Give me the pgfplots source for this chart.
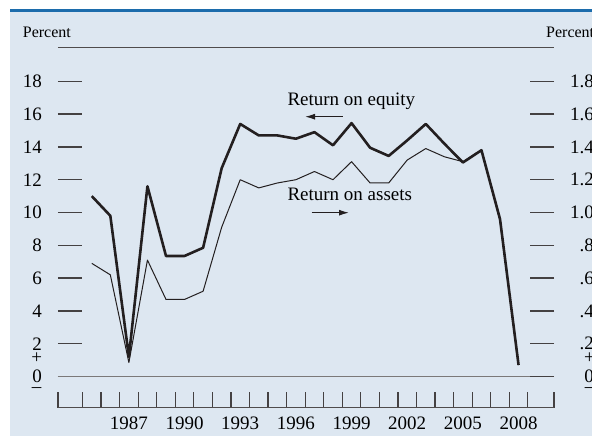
\documentclass[border=0pt]{standalone}
\usepackage{fontspec}
\setmainfont{Liberation Serif}
\usepackage{pgfplots}
\usepackage{pgfplotstable}
\pgfplotsset{compat=1.18}
\usetikzlibrary{arrows.meta}

\definecolor{bgblue}{RGB}{221,231,241}
\definecolor{topblue}{RGB}{28,108,172}
\definecolor{ink}{RGB}{35,31,32}

% annual returns, commercial banks
\pgfplotstableread{
year roe roa
1985 11.0 0.69
1986 9.8 0.62
1987 1.2 0.085
1988 11.6 0.71
1989 7.35 0.47
1990 7.35 0.47
1991 7.85 0.52
1992 12.7 0.91
1993 15.4 1.20
1994 14.7 1.15
1995 14.7 1.18
1996 14.5 1.20
1997 14.9 1.25
1998 14.1 1.20
1999 15.45 1.31
2000 13.95 1.18
2001 13.45 1.18
2002 14.4 1.32
2003 15.4 1.39
2004 14.2 1.34
2005 13.05 1.31
2006 13.8 1.38
2007 9.6 0.95
2008 0.7 0.07
}\banktable

\newcommand{\tickfont}{\fontsize{19}{19}\selectfont}

\begin{document}
\begin{tikzpicture}[x=1pt,y=1pt]
\fill[bgblue] (10,0) rectangle (592,424);
\fill[topblue] (10,424) rectangle (592,427);

\pgfplotsset{
  frame/.style={
    at={(58pt,28pt)}, anchor=south west,
    scale only axis, width=496pt, height=360.3pt,
    xmin=1983.18, xmax=2009.91,
    axis line style={draw=none},
    tick align=inside,
    major tick length=24pt,
    every tick/.style={ink!85, line width=1.3pt},
    /pgf/number format/assume math mode=true,
  }
}

\begin{axis}[frame,
  ymin=-1.92, ymax=20.05,
  ytick={0,2,4,6,8,10,12,14,16,18},
  yticklabels={0,2,4,6,8,10,12,14,16,18},
  ytick pos=left,
  yticklabel style={font=\tickfont, inner sep=0pt, anchor=east, xshift=-16pt},
  xtick={1987,1990,1993,1996,1999,2002,2005,2008},
  xticklabels={1987,1990,1993,1996,1999,2002,2005,2008},
  xtick pos=bottom,
  major x tick style={draw=none},
  minor xtick={1983.18,1984.5,1985.5,1986.5,1987.5,1988.5,1989.5,1990.5,1991.5,1992.5,1993.5,1994.5,1995.5,1996.5,1997.5,1998.5,1999.5,2000.5,2001.5,2002.5,2003.5,2004.5,2005.5,2006.5,2007.5,2008.5,2009.91},
  minor tick length=16pt,
  xticklabel style={font=\tickfont, inner sep=0pt, anchor=north, yshift=-9pt},
]
  \draw[ink!80, line width=1.3pt] (rel axis cs:0,1) -- (rel axis cs:1,1);
  \draw[ink!80, line width=1.3pt] (rel axis cs:0,0) -- (rel axis cs:1,0);
  \draw[ink!60, line width=1.2pt] (axis cs:1983.18,0) -- (axis cs:2009.91,0);
  \addplot[ink, line width=2.6pt, line join=round] table[x=year, y=roe] {\banktable};
\end{axis}

\begin{axis}[frame,
  ymin=-0.192, ymax=2.005,
  xtick=\empty,
  ytick={0,0.2,0.4,0.6,0.8,1.0,1.2,1.4,1.6,1.8},
  yticklabels={0,.2,.4,.6,.8,1.0,1.2,1.4,1.6,1.8},
  ytick pos=right,
  yticklabel pos=right,
  yticklabel style={font=\tickfont, inner sep=0pt, anchor=east, xshift=40pt},
]
  \addplot[ink, line width=1.0pt, line join=round] table[x=year, y=roa] {\banktable};
\end{axis}

% unit and sign labels
\node[font=\fontsize{16}{16}\selectfont, inner sep=0pt, anchor=base west] at (22.7,398.7) {Percent};
\node[font=\fontsize{16}{16}\selectfont, inner sep=0pt, anchor=base west] at (546,398.7) {Percent};
\node[font=\tickfont, inner sep=0pt] at (36.7,78.3) {+};
\node[font=\tickfont, inner sep=0pt] at (36.7,46) {\textendash};
\node[font=\tickfont, inner sep=0pt] at (589.5,78.3) {+};
\node[font=\tickfont, inner sep=0pt] at (589.5,46) {\textendash};

% series labels
\node[font=\fontsize{19}{19}\selectfont, inner sep=0pt, anchor=base west] at (287.3,330) {Return on equity};
\draw[ink, line width=1.2pt, -{Latex[length=10pt,width=6pt]}] (342.7,319.3) -- (305,319.3);
\node[font=\fontsize{19}{19}\selectfont, inner sep=0pt, anchor=base west] at (287.3,235.3) {Return on assets};
\draw[ink, line width=1.2pt, -{Latex[length=10pt,width=6pt]}] (311.7,223.3) -- (349,223.3);

\pgfresetboundingbox
\useasboundingbox (0,0) rectangle (592,436);
\end{tikzpicture}
\end{document}
